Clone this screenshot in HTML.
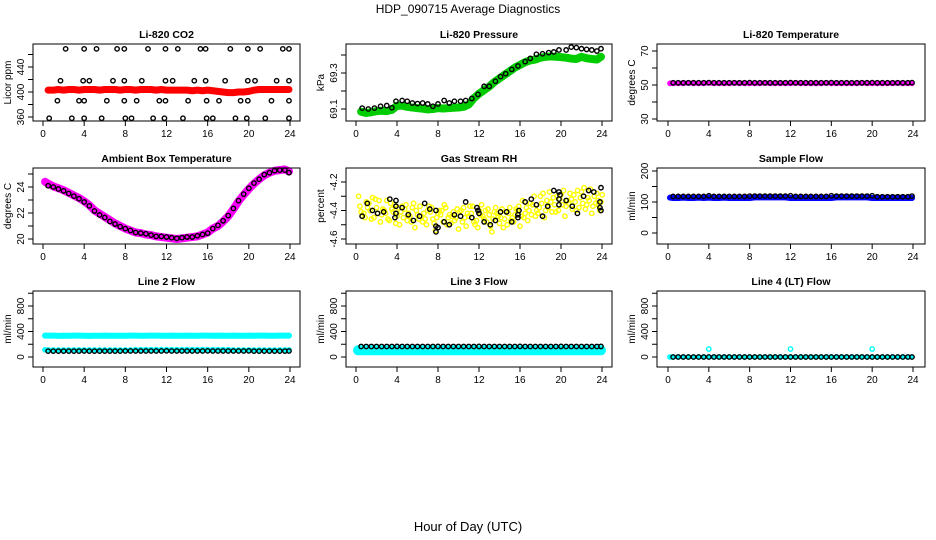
<!DOCTYPE html>
<html><head><meta charset="utf-8"><style>
body{margin:0;background:#fff;}
svg{display:block;font-family:"Liberation Sans",sans-serif;}
</style></head><body>
<svg id="c" width="936" height="540" viewBox="0 0 936 540" xmlns="http://www.w3.org/2000/svg">
<text x="468" y="13" font-size="12" text-anchor="middle">HDP_090715  Average Diagnostics</text>
<text x="468" y="531" font-size="13" text-anchor="middle">Hour of Day (UTC)</text>
</svg>
<script>
const T48=[0.5,1,1.5,2,2.5,3,3.5,4,4.5,5,5.5,6,6.5,7,7.5,8,8.5,9,9.5,10,10.5,11,11.5,12,12.5,13,13.5,14,14.5,15,15.5,16,16.5,17,17.5,18,18.5,19,19.5,20,20.5,21,21.5,22,22.5,23,23.5,23.9];
const xTicks=[0,4,8,12,16,20,24];
// CO2
const co2BlackX=[2.2,4.0,5.2,7.2,7.9,10.2,11.9,13.1,15.3,15.8,18.2,19.9,21.1,23.3,23.9,1.7,3.9,4.5,6.8,7.9,9.6,11.9,12.6,14.7,15.8,17.7,19.9,20.6,22.7,23.9,1.4,3.5,4.0,6.2,7.9,9.1,11.3,11.9,14.1,15.9,17.1,19.2,19.9,22.2,23.9,0.6,2.8,4.0,5.7,8.0,8.6,10.7,11.8,13.6,15.9,16.5,18.7,19.8,21.6,23.9];
const co2BlackY=[469,469,469,469,469,469,469,469,469,469,469,469,469,469,469,418,418,418,418,418,418,418,418,418,418,418,418,418,418,418,386,386,386,386,386,386,386,386,386,386,386,386,386,386,386,358,358,358,358,358,358,358,358,358,358,358,358,358,358,358];
const co2Red=[403,403,404,403,404,404,403,404,404,404,403,404,404,404,403,404,404,403,404,404,404,403,404,403,403,403,403,403,402,403,402,403,402,401,400,399,399,400,400,401,403,404,404,404,404,404,404,404];
// Pressure
const presBlackX=[0.6,1.2,1.8,2.4,3.0,3.5,3.9,4.5,5.0,5.5,6.0,6.5,7.0,7.5,8.0,8.6,9.1,9.6,10.2,10.7,11.3,11.9,12.5,13.0,13.6,14.1,14.6,15.2,15.8,16.5,17.0,17.6,18.2,18.8,19.3,19.8,20.5,21.0,21.5,22.0,22.5,23.0,23.5,23.9];
const presBlackY=[69.105,69.1,69.105,69.115,69.119,69.107,69.143,69.147,69.143,69.133,69.13,69.133,69.128,69.115,69.128,69.147,69.133,69.143,69.143,69.147,69.158,69.181,69.226,69.226,69.254,69.28,69.296,69.32,69.339,69.363,69.381,69.404,69.407,69.413,69.417,69.428,69.428,69.444,69.441,69.435,69.431,69.428,69.422,69.435];
const presGreen=[69.085,69.078,69.082,69.088,69.09,69.088,69.095,69.118,69.118,69.112,69.108,69.105,69.102,69.098,69.1,69.105,69.103,69.105,69.107,69.108,69.112,69.125,69.16,69.185,69.205,69.225,69.25,69.27,69.29,69.31,69.33,69.345,69.36,69.37,69.375,69.385,69.39,69.392,69.39,69.388,69.385,69.38,69.378,69.39,69.382,69.378,69.375,69.39];
// Li-820 temperature
const tempMag=[51,51,51,51.2,51,51,51,51.2,51,51,51,51,51.2,51,51,51,51,51,51.2,51,51,51,51,51,51.2,51,51,51,51,51,51.2,51,51,51,51,51,51,51.2,51,51,51,51,51,51,51.2,51,51,51];
const tempBlack=[51.3,51.3,51.3,51.3,51.3,51.3,51.3,51.4,51.3,51.3,51.3,51.3,51.3,51.3,51.3,51.4,51.3,51.3,51.3,51.3,51.3,51.3,51.3,51.4,51.3,51.3,51.3,51.3,51.3,51.3,51.3,51.4,51.3,51.3,51.3,51.3,51.3,51.3,51.3,51.4,51.3,51.3,51.3,51.3,51.3,51.3,51.3,51.4];
// Ambient box temperature
const ambMag=[24.25,24.05,23.9,23.75,23.55,23.35,23.15,22.9,22.6,22.2,21.95,21.7,21.45,21.2,21.0,20.8,20.65,20.5,20.45,20.35,20.3,20.2,20.15,20.1,20.05,20.0,20.05,20.1,20.15,20.2,20.35,20.5,20.8,21.0,21.35,21.75,22.3,22.9,23.4,23.85,24.25,24.6,24.9,25.1,25.25,25.3,25.35,25.2];
const ambBlack=[24.1,24.0,23.85,23.7,23.5,23.3,23.1,22.85,22.55,22.15,21.85,21.65,21.35,21.15,20.95,20.8,20.65,20.5,20.45,20.4,20.3,20.2,20.2,20.15,20.1,20.05,20.1,20.15,20.15,20.25,20.35,20.45,20.8,21.05,21.4,21.8,22.35,22.95,23.45,23.9,24.3,24.6,24.95,25.1,25.25,25.3,25.3,25.1];
// Gas stream RH
const rhYellowA=[-4.30,-4.42,-4.35,-4.45,-4.33,-4.40,-4.47,-4.36,-4.50,-4.39,-4.44,-4.52,-4.37,-4.46,-4.41,-4.54,-4.43,-4.38,-4.49,-4.45,-4.40,-4.51,-4.42,-4.47,-4.36,-4.48,-4.55,-4.42,-4.39,-4.50,-4.45,-4.40,-4.33,-4.47,-4.36,-4.42,-4.28,-4.38,-4.31,-4.40,-4.26,-4.35,-4.29,-4.38,-4.24,-4.33,-4.30,-4.36];
const rhYellowB=[-4.41,-4.34,-4.46,-4.38,-4.43,-4.33,-4.39,-4.44,-4.37,-4.47,-4.38,-4.43,-4.48,-4.40,-4.46,-4.42,-4.48,-4.45,-4.41,-4.53,-4.38,-4.44,-4.48,-4.40,-4.46,-4.43,-4.41,-4.49,-4.46,-4.38,-4.43,-4.51,-4.42,-4.35,-4.44,-4.30,-4.40,-4.34,-4.41,-4.29,-4.37,-4.32,-4.40,-4.27,-4.36,-4.42,-4.28,-4.34];
const rhYellowC=[-4.37,-4.45,-4.40,-4.32,-4.48,-4.42,-4.35,-4.49,-4.41,-4.36,-4.48,-4.40,-4.44,-4.50,-4.38,-4.45,-4.40,-4.50,-4.44,-4.39,-4.48,-4.42,-4.37,-4.52,-4.44,-4.39,-4.46,-4.44,-4.52,-4.42,-4.48,-4.37,-4.45,-4.40,-4.30,-4.38,-4.45,-4.27,-4.36,-4.32,-4.44,-4.28,-4.34,-4.31,-4.39,-4.25,-4.35,-4.40];
const rhYellowD=[-4.44,-4.38,-4.31,-4.42,-4.39,-4.46,-4.41,-4.38,-4.45,-4.42,-4.35,-4.46,-4.42,-4.37,-4.49,-4.40,-4.36,-4.43,-4.47,-4.41,-4.45,-4.37,-4.50,-4.43,-4.40,-4.51,-4.38,-4.45,-4.41,-4.47,-4.39,-4.44,-4.38,-4.43,-4.40,-4.35,-4.33,-4.41,-4.30,-4.36,-4.33,-4.39,-4.26,-4.35,-4.31,-4.37,-4.33,-4.29];
const rhBlackX=[0.6,1.1,1.6,2.1,2.7,3.3,3.8,3.9,3.9,3.9,4.5,5.1,5.6,6.2,6.7,7.2,7.8,7.8,7.8,8.0,8.6,9.1,9.6,10.2,10.7,11.3,11.8,11.9,12.0,12.5,13.1,13.6,14.1,14.7,15.2,15.8,15.8,15.9,16.5,17.1,17.6,18.2,18.7,19.3,19.8,19.8,19.8,19.9,20.5,21.1,21.6,22.2,22.7,23.2,23.8,23.8,23.9,23.9];
const rhBlackY=[-4.44,-4.35,-4.40,-4.42,-4.41,-4.32,-4.45,-4.42,-4.37,-4.33,-4.38,-4.43,-4.47,-4.44,-4.35,-4.39,-4.40,-4.51,-4.55,-4.52,-4.48,-4.50,-4.43,-4.44,-4.34,-4.45,-4.38,-4.40,-4.42,-4.48,-4.50,-4.47,-4.41,-4.41,-4.48,-4.45,-4.43,-4.40,-4.34,-4.32,-4.36,-4.44,-4.37,-4.26,-4.27,-4.32,-4.36,-4.29,-4.33,-4.37,-4.42,-4.30,-4.26,-4.27,-4.38,-4.34,-4.24,-4.40];
// Sample flow
const sfBlue=[113,113,114,113,113,114,113,114,113,113,114,113,113,113,113,113,115,115,115,115,115,115,115,113,113,113,113,113,113,113,113,113,115,115,115,115,115,115,115,113,113,113,113,113,113,113,113,113];
const sfBlack=[118,118,118,118,118,118,118,120,118,118,118,118,118,118,118,119,119,119,119,119,119,119,119,120,118,118,118,118,118,118,118,120,119,119,119,119,119,119,119,120,117,117,117,117,117,117,117,119];
// Line 2 flow
const l2CyanHi=[335,335,332,334,334,335,335,334,332,334,334,335,334,334,334,333,335,335,334,334,335,335,334,334,335,334,334,335,334,334,335,335,334,335,334,334,335,334,334,335,334,335,335,334,334,335,335,335];
const l2CyanLo=[112,110,110,110,110,110,110,110,110,110,110,110,110,110,110,110,110,115,115,115,115,115,115,115,115,115,115,115,115,115,115,115,115,115,115,115,110,110,110,110,110,110,110,110,110,110,110,110];
const l2Black=[92,92,92,92,92,92,92,94,92,92,92,92,92,92,92,94,94,94,94,94,94,94,94,96,94,94,94,94,94,94,94,96,94,94,94,94,94,94,94,96,92,92,92,92,92,92,92,94];
// Line 3 flow
const l3Cyan=[105,105,105,105,105,105,105,105,105,105,105,105,105,105,105,105,105,105,105,105,105,105,105,105,105,105,105,105,105,105,105,105,105,105,105,105,105,105,105,105,105,105,105,105,105,105,105,105];
const l3Black=[165,165,165,165,165,165,165,166,165,165,165,165,165,165,165,166,165,165,165,165,165,165,165,166,165,165,165,165,165,165,165,166,165,165,165,165,165,165,165,166,165,165,165,165,165,165,165,166];
// Line 4 flow
const l4Cyan=[0,0,0,0,0,0,0,0,0,0,0,0,0,0,0,0,0,0,0,0,0,0,0,0,0,0,0,0,0,0,0,0,0,0,0,0,0,0,0,0,0,0,0,0,0,0,0,0];
const l4SpikeX=[4.0,12.0,20.0];
const l4SpikeY=[125,125,125];
const l4Black=[0,0,0,0,0,0,0,0,0,0,0,0,0,0,0,0,0,0,0,0,0,0,0,0,0,0,0,0,0,0,0,0,0,0,0,0,0,0,0,0,0,0,0,0,0,0,0,0];

const svg=document.getElementById('c');
const NS='http://www.w3.org/2000/svg';
function mk(tag,attrs,parent){const e=document.createElementNS(NS,tag);for(const k in attrs)e.setAttribute(k,attrs[k]);(parent||svg).appendChild(e);return e;}

function panel(p){
  const g=mk('g',{});
  
  
  const xs=h=>p.x0+h*(p.x24-p.x0)/24;
  const ys=v=>p.yA+(v-p.vA)*(p.yB-p.yA)/(p.vB-p.vA);
  const t=mk('text',{x:(p.L+p.R)/2,y:p.T-6,'font-size':10.5,'font-weight':'bold','text-anchor':'middle'},g);
  t.textContent=p.title;
  
  
  const xa=mk('g',{},g);
  
  
  xTicks.forEach(v=>{
    const x=xs(v);
    mk('line',{x1:x,x2:x,y1:p.B,y2:p.B+5,stroke:'#000','stroke-width':1},xa);
    const lt=mk('text',{x:x,y:p.B+16,'font-size':10,'text-anchor':'middle'},xa);
    lt.textContent=v;
  });
  const ya=mk('g',{},g);
  
  
  p.yticks.forEach(v=>{
    const y=ys(v);
    mk('line',{x1:p.L-5,x2:p.L,y1:y,y2:y,stroke:'#000','stroke-width':1},ya);
  });
  p.ylabels.forEach(v=>{
    const y=ys(v);
    const lt=mk('text',{x:p.L-9,y:y,'font-size':10,'text-anchor':'middle',transform:`rotate(-90 ${p.L-9} ${y})`},ya);
    lt.textContent=v;
  });
  const yt=mk('text',{x:p.L-22,y:(p.T+p.B)/2,'font-size':10,'text-anchor':'middle',transform:`rotate(-90 ${p.L-22} ${(p.T+p.B)/2})`},g);
  yt.textContent=p.ytitle;
  
  
  p.series.forEach(s=>{
    const sg=mk('g',{},g);
    
    
    if(s.band){
      const pts=s.x.map((h,i)=>xs(h+(s.dx||0))+','+ys(s.y[i])).join(' ');
      mk('polyline',{points:pts,fill:'none',stroke:s.color,'stroke-width':s.band,'stroke-linejoin':'round','stroke-linecap':'round'},sg);
    }
    s.x.forEach((h,i)=>{
      const c=mk('circle',{cx:xs(h+(s.dx||0)),cy:ys(s.y[i]),r:s.r||2.2,fill:'none',stroke:s.color,'stroke-width':s.sw||1.4},sg);
      
      
    });
  });
  mk('rect',{x:p.L,y:p.T,width:p.R-p.L,height:p.B-p.T,fill:'none',stroke:'#000','stroke-width':1},g);
}

const col=[{L:33,R:300,x0:43,x24:290},{L:346,R:612,x0:356,x24:602},{L:657,R:925,x0:668,x24:913}];
const row=[{T:44,B:121},{T:168,B:244},{T:291,B:367}];
function P(c,r,o){return Object.assign({},col[c],row[r],o);}

panel(P(0,0,{name:'co2',title:'Li-820 CO2',ytitle:'Licor ppm',vA:360,yA:117,vB:440,yB:67,yticks:[360,380,400,420,440,460],ylabels:[360,400,440],
  series:[{name:'co2-red-series',x:T48,y:co2Red,color:'#ff0000',band:7},{name:'co2-black-series',x:co2BlackX,y:co2BlackY,color:'#000'}]}));
panel(P(1,0,{name:'pressure',title:'Li-820 Pressure',ytitle:'kPa',vA:69.1,yA:109,vB:69.3,yB:73,yticks:[69.1,69.2,69.3,69.4],ylabels:[69.1,69.3],
  series:[{name:'pressure-green-series',x:T48,y:presGreen,color:'#00cc00',band:8},{name:'pressure-black-series',x:presBlackX,y:presBlackY,color:'#000'}]}));
panel(P(2,0,{name:'li820-temp',title:'Li-820 Temperature',ytitle:'degrees C',vA:30,yA:119,vB:70,yB:51,yticks:[30,40,50,60,70],ylabels:[30,50,70],
  series:[{name:'temp-magenta-series',x:[0.2].concat(T48),y:[51].concat(tempMag),color:'#ff00ff',band:5},{name:'temp-black-series',x:T48,y:tempBlack,color:'#000'}]}));
panel(P(0,1,{name:'ambient',title:'Ambient Box Temperature',ytitle:'degrees C',vA:20,yA:239,vB:24,yB:187,yticks:[20,21,22,23,24,25],ylabels:[20,22,24],
  series:[{name:'ambient-magenta-series',x:[0.2].concat(T48),y:[24.4].concat(ambMag),color:'#ff00ff',band:8},{name:'ambient-black-series',x:T48,y:ambBlack,color:'#000'}]}));
panel(P(1,1,{name:'rh',title:'Gas Stream RH',ytitle:'percent',vA:-4.6,yA:239,vB:-4.2,yB:182,yticks:[-4.6,-4.5,-4.4,-4.3,-4.2],ylabels:[-4.6,-4.4,-4.2],
  series:[{name:'rh-yellow-a',x:T48,y:rhYellowA,color:'#ffff00',dx:-0.25},{name:'rh-yellow-b',x:T48,y:rhYellowB,color:'#ffff00'},
          {name:'rh-yellow-c',x:T48,y:rhYellowC,color:'#ffff00',dx:-0.12},{name:'rh-yellow-d',x:T48,y:rhYellowD,color:'#ffff00',dx:0.12},
          {name:'rh-black-series',x:rhBlackX,y:rhBlackY,color:'#000'}]}));
panel(P(2,1,{name:'sample-flow',title:'Sample Flow',ytitle:'ml/min',vA:0,yA:233,vB:200,yB:171,yticks:[0,50,100,150,200],ylabels:[0,100,200],
  series:[{name:'sample-blue-series',x:[0.2].concat(T48),y:[114].concat(sfBlue),color:'#0000ff',band:6},{name:'sample-black-series',x:T48,y:sfBlack,color:'#000'}]}));
const fy={vA:0,yA:357,vB:800,yB:306,yticks:[0,200,400,600,800,1000],ylabels:[0,400,800],ytitle:'ml/min'};
panel(P(0,2,Object.assign({name:'line2',title:'Line 2 Flow',
  series:[{name:'line2-cyan-high',x:[0.2].concat(T48),y:[335].concat(l2CyanHi),color:'#00ffff',band:6},{name:'line2-cyan-low',x:[0.2].concat(T48),y:[112].concat(l2CyanLo),color:'#00ffff',band:4},{name:'line2-black-series',x:T48,y:l2Black,color:'#000'}]},fy)));
panel(P(1,2,Object.assign({name:'line3',title:'Line 3 Flow',
  series:[{name:'line3-cyan-series',x:[0.2].concat(T48),y:[105].concat(l3Cyan),color:'#00ffff',band:10},{name:'line3-black-series',x:T48,y:l3Black,color:'#000'}]},fy)));
panel(P(2,2,Object.assign({name:'line4',title:'Line 4 (LT) Flow',
  series:[{name:'line4-cyan-series',x:[0.2].concat(T48),y:[0].concat(l4Cyan),color:'#00ffff',band:4},{name:'line4-cyan-spikes',x:l4SpikeX,y:l4SpikeY,color:'#00ffff'},{name:'line4-black-series',x:T48,y:l4Black,color:'#000'}]},fy)));
</script>
</body></html>
